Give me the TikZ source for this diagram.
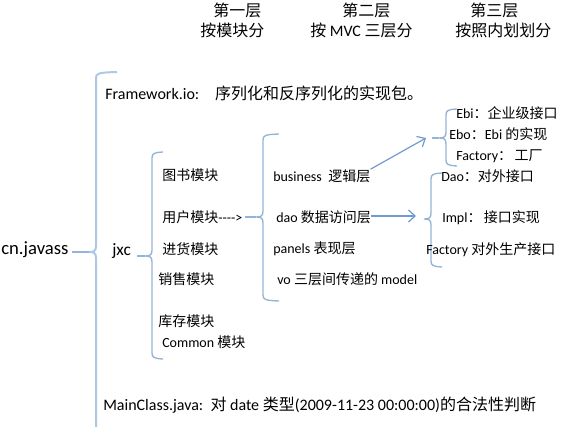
\documentclass[tikz,border=0pt]{standalone}
\usepackage{fontspec}
\setmainfont{Carlito}
\newfontfamily\cjk{Noto Sans CJK SC}
\usetikzlibrary{arrows.meta}
\newcommand\zh[1]{{\cjk #1}}
\definecolor{brc}{HTML}{95B3D7}
\definecolor{bigbrc}{HTML}{B0C7E4}
\definecolor{arrc}{HTML}{6F9BD0}
% #1 style, #2 x, #3 top, #4 tip y, #5 bottom, #6 hook length, #7 tip coordinate name
\newcommand\mybrace[7]{%
  \draw[#1] ({#2+#6},{#3-2}) .. controls ({#2+2},{#3-1.5}) and (#2,{#3-0.5}) .. (#2,{#3+4})
    -- (#2,{#4-6}) .. controls (#2,{#4-1}) and ({#2-2},#4) .. ({#2-7},#4)
    .. controls ({#2-2},#4) and (#2,{#4+1}) .. (#2,{#4+6})
    -- (#2,{#5-4}) .. controls (#2,{#5+0.5}) and ({#2+2},{#5+1.5}) .. ({#2+#6},{#5+2});
  \coordinate (#7) at ({#2-7},#4);}
\begin{document}
\begin{tikzpicture}[x=0.75pt,y=-0.75pt,
  txt/.style={anchor=west,inner sep=0pt,font=\fontsize{10.5}{12}\selectfont},
  bigtxt/.style={anchor=west,inner sep=0pt,font=\fontsize{12}{14}\selectfont},
  hdr/.style={anchor=west,inner sep=0pt,font=\cjk\fontsize{12}{14}\selectfont},
  brcline/.style={draw=brc,line width=1pt},
  bigline/.style={draw=bigbrc,line width=1.5pt},
  arrline/.style={draw=arrc,line width=0.9pt,-{Straight Barb[length=5pt,width=9pt]}}]
\useasboundingbox (0,0) rectangle (564,427);
% headers
\node[hdr] (h1a) at (213,10) {第一层};
\node[hdr] (h1b) at (200,30) {按模块分};
\node[hdr] (h2a) at (342,10) {第二层};
\node[hdr] (h2b) at (310,30) {按 {\rmfamily MVC} 三层分};
\node[hdr] (h3a) at (470,10) {第三层};
\node[hdr] (h3b) at (455,30) {按照内划划分};
% root
\node[anchor=west,inner sep=0pt,font=\fontsize{14}{16}\selectfont] (cn) at (1,250) {cn.javass};
\mybrace{bigline}{96}{74}{252}{436}{21}{b0tip}
\draw[brcline] (cn.east |- b0tip) ++(3,0) -- (b0tip);
\node[bigtxt] (fw) at (105,93) {Framework.io:\kern 12pt\zh{序列化和反序列化的实现包。}};
\node[bigtxt] (mc) at (103,405) {MainClass.java:\ \ \zh{对} date \zh{类型}(2009-11-23 00:00:00)\zh{的合法性判断}};
% jxc
\node[anchor=west,inner sep=0pt,font=\fontsize{13}{15}\selectfont] (jxc) at (112,251) {jxc};
\mybrace{brcline}{152}{154}{256}{357}{11}{b1tip}
\draw[brcline] (jxc.east |- b1tip) ++(6,0) -- (b1tip);
\node[txt] (m1) at (162,175) {\zh{图书模块}};
\node[txt] (m2) at (162,217) {\zh{用户模块}{-}{-}{-}{-}>};
\node[txt] (m3) at (162,249) {\zh{进货模块}};
\node[txt] (m4) at (158,279) {\zh{销售模块}};
\node[txt] (m5) at (158,321) {\zh{库存模块}};
\node[txt] (m6) at (162,342) {Common \zh{模块}};
% MVC layer
\mybrace{brcline}{263}{136}{217}{299}{16}{b2tip}
\draw[brcline] (m2.east |- b2tip) ++(2,0) -- (b2tip);
\node[txt] (biz) at (273,176) {business\ \ \zh{逻辑层}};
\node[txt] (dao) at (276,217) {dao \zh{数据访问层}};
\node[txt] (pan) at (273,249) {panels \zh{表现层}};
\node[txt] (vo) at (277,279) {vo \zh{三层间传递的} model};
% third layer upper
\mybrace{brcline}{446}{111}{138}{164}{11}{b3tip}
\coordinate (a1end) at (426,138);
\draw[brcline] (a1end) ++(6,0) -- (b3tip);
\node[txt] (ebi) at (456,113) {Ebi\zh{：企业级接口}};
\node[txt] (ebo) at (449,134) {Ebo\zh{：}Ebi \zh{的实现}};
\node[txt] (fac1) at (456,156) {Factory\zh{：\,工厂}};
\draw[arrline] (biz.north east) -- (a1end);
% third layer lower
\mybrace{brcline}{431}{175}{219}{265}{11}{b4tip}
\coordinate (a2end) at (416,216);
\draw[brcline] (a2end) ++(8,3) -- (b4tip);
\node[txt] (daoi) at (441,176) {Dao\zh{：对外接口}};
\node[txt] (impl) at (442,218) {Impl\zh{：\,接口实现}};
\node[txt] (fac2) at (426,250) {Factory \zh{对外生产接口}};
\draw[arrline] (dao.east) ++(0,-1) -- (a2end);
\end{tikzpicture}
\end{document}
